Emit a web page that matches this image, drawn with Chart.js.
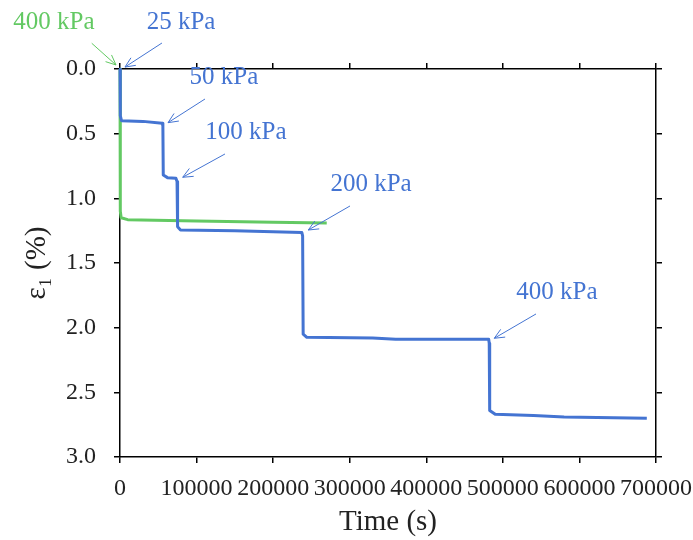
<!DOCTYPE html>
<html>
<head>
<meta charset="utf-8">
<script src="https://cdn.jsdelivr.net/npm/chart.js@4"></script>
<style>
  html, body { margin: 0; padding: 0; background: #fff; }
  #wrap { width: 693px; height: 540px; }
</style>
</head>
<body>
<div id="wrap"><canvas id="strainChart" width="693" height="540"></canvas></div>
<script>
// Time (s) and axial strain (%)
const blueTime = [0, 400, 2000, 30000, 55000, 56000, 56500, 62000, 73000, 74500, 75200, 79000, 150000, 237500, 238500, 239200, 244000, 330000, 360000, 481500, 482200, 482800, 490000, 540000, 580000, 688000];
const blueStrain = [0, 0.36, 0.40, 0.405, 0.42, 0.44, 0.82, 0.84, 0.845, 0.87, 1.22, 1.245, 1.25, 1.265, 1.29, 2.05, 2.075, 2.08, 2.09, 2.09, 2.12, 2.64, 2.67, 2.68, 2.69, 2.70];

const greenTime = [0, 400, 1500, 10000, 100000, 200000, 270000];
const greenStrain = [0, 1.10, 1.15, 1.165, 1.175, 1.185, 1.19];

const xTicks = [0, 100000, 200000, 300000, 400000, 500000, 600000, 700000];
const yTicks = [0, 0.5, 1.0, 1.5, 2.0, 2.5, 3.0];

// pressure labels: text, text centre, arrow tail, arrow tip (data units)
const labelText = ['400 kPa', '25 kPa', '50 kPa', '100 kPa', '200 kPa', '400 kPa'];
const labelSeries = ['green', 'blue', 'blue', 'blue', 'blue', 'blue'];
const labelAt = [[-86200, -0.363], [79700, -0.363], [135800, 0.062], [164500, 0.487], [327800, 0.889], [570700, 1.724]];
const arrowFrom = [[-36900, -0.199], [54800, -0.201], [111000, 0.232], [137100, 0.657], [300400, 1.059], [543300, 1.894]];
const arrowTo = [[-5200, -0.031], [6500, -0.015], [62700, 0.415], [81900, 0.837], [245900, 1.245], [488800, 2.082]];

const BLUE = '#4474d2';
const GREEN = '#63c963';
const SERIF = '"Liberation Serif", "Times New Roman", serif';

const pts = (xs, ys) => xs.map((x, i) => ({ x: x, y: ys[i] }));

const labelPlugin = {
  id: 'pressureLabels',
  afterDatasetsDraw(chart) {
    const ctx = chart.ctx;
    const sx = chart.scales.x, sy = chart.scales.y;
    ctx.save();
    labelText.forEach((txt, i) => {
      const col = labelSeries[i] === 'green' ? GREEN : BLUE;
      ctx.fillStyle = col;
      ctx.strokeStyle = col;
      ctx.font = '25px ' + SERIF;
      ctx.textAlign = 'center';
      ctx.textBaseline = 'middle';
      ctx.fillText(txt, sx.getPixelForValue(labelAt[i][0]), sy.getPixelForValue(labelAt[i][1]));

      const x1 = sx.getPixelForValue(arrowFrom[i][0]), y1 = sy.getPixelForValue(arrowFrom[i][1]);
      const x2 = sx.getPixelForValue(arrowTo[i][0]), y2 = sy.getPixelForValue(arrowTo[i][1]);
      ctx.lineWidth = 1;
      ctx.beginPath();
      ctx.moveTo(x1, y1);
      ctx.lineTo(x2, y2);
      const ang = Math.atan2(y2 - y1, x2 - x1);
      const head = 11, spread = 0.42;
      ctx.moveTo(x2 - head * Math.cos(ang - spread), y2 - head * Math.sin(ang - spread));
      ctx.lineTo(x2, y2);
      ctx.lineTo(x2 - head * Math.cos(ang + spread), y2 - head * Math.sin(ang + spread));
      ctx.stroke();
    });
    ctx.restore();
  }
};

// fixed box sizes so the plot area lands where it is in the picture
function fixBox(size) {
  return function (scale) {
    if (scale.isHorizontal()) scale.height = size; else scale.width = size;
    scale.paddingLeft = 0; scale.paddingRight = 0;
    scale.paddingTop = 0; scale.paddingBottom = 0;
  };
}

const axisGrid = { drawOnChartArea: false, drawTicks: true, tickLength: 6, color: '#000', lineWidth: 1.5 };
const axisBorder = { color: '#000', width: 1.5 };

new Chart(document.getElementById('strainChart').getContext('2d'), {
  type: 'line',
  data: {
    datasets: [
      {
        label: 'blue',
        data: pts(blueTime, blueStrain),
        borderColor: BLUE,
        borderWidth: 3,
        borderJoinStyle: 'round',
        pointRadius: 0,
        fill: false,
        tension: 0,
        clip: false
      },
      {
        label: 'green',
        data: pts(greenTime, greenStrain),
        borderColor: GREEN,
        borderWidth: 3,
        borderJoinStyle: 'round',
        pointRadius: 0,
        fill: false,
        tension: 0,
        clip: false
      }
    ]
  },
  options: {
    responsive: false,
    animation: false,
    events: [],
    layout: { padding: 0 },
    plugins: { legend: { display: false }, tooltip: { enabled: false } },
    scales: {
      x: {
        type: 'linear',
        position: 'bottom',
        min: xTicks[0], max: xTicks[xTicks.length - 1],
        afterBuildTicks: s => { s.ticks = xTicks.map(v => ({ value: v })); },
        afterFit: fixBox(83),
        grid: axisGrid,
        border: axisBorder,
        ticks: {
          color: '#222', padding: 11, maxRotation: 0, autoSkip: false,
          font: { family: SERIF, size: 24 },
          callback: v => String(v)
        },
        title: { display: true, text: 'Time (s)', color: '#222', padding: { bottom: 0 }, font: { family: SERIF, size: 29 } }
      },
      x2: {
        type: 'linear',
        position: 'top',
        min: xTicks[0], max: xTicks[xTicks.length - 1],
        afterBuildTicks: s => { s.ticks = xTicks.map(v => ({ value: v })); },
        afterFit: fixBox(69),
        grid: axisGrid,
        border: axisBorder,
        ticks: { display: false }
      },
      y: {
        type: 'linear',
        position: 'left',
        reverse: true,
        min: yTicks[0], max: yTicks[yTicks.length - 1],
        afterBuildTicks: s => { s.ticks = yTicks.map(v => ({ value: v })); },
        afterFit: fixBox(120),
        grid: axisGrid,
        border: axisBorder,
        ticks: {
          color: '#222', padding: 18,
          font: { family: SERIF, size: 24 },
          callback: v => Number(v).toFixed(1)
        },
        title: { display: true, text: 'ε₁ (%)', color: '#222', padding: { top: 20 }, font: { family: SERIF, size: 29 } }
      },
      y2: {
        type: 'linear',
        position: 'right',
        reverse: true,
        min: yTicks[0], max: yTicks[yTicks.length - 1],
        afterBuildTicks: s => { s.ticks = yTicks.map(v => ({ value: v })); },
        afterFit: fixBox(37),
        grid: axisGrid,
        border: axisBorder,
        ticks: { display: false }
      }
    }
  },
  plugins: [labelPlugin]
});
</script>
</body>
</html>
